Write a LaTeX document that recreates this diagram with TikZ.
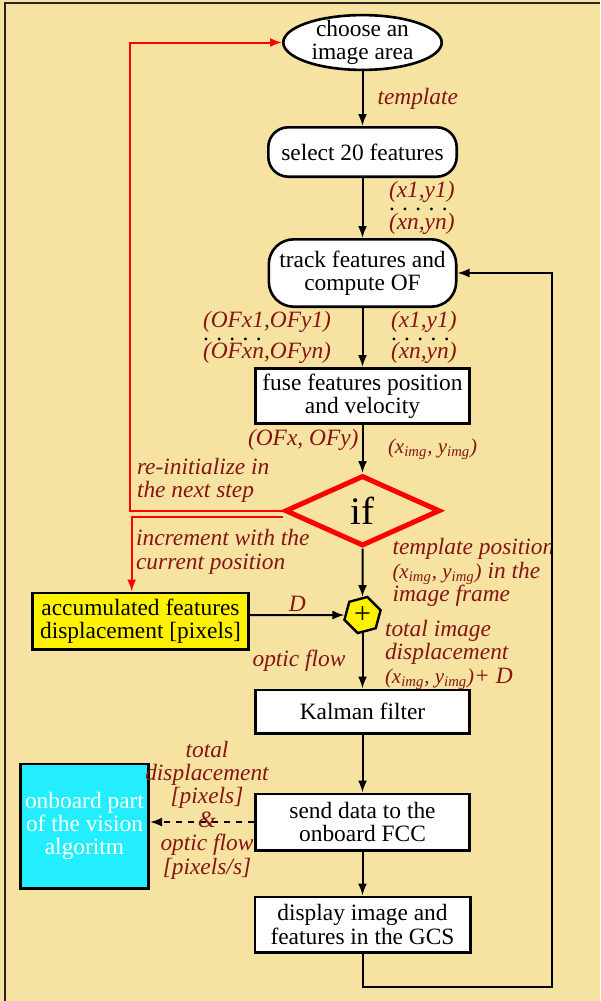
\documentclass[tikz,border=0pt]{standalone}
\usepackage{fontspec}
\setmainfont{Liberation Serif}
\usetikzlibrary{positioning,shapes.geometric,arrows.meta}
\definecolor{paper}{RGB}{246,226,161}
\definecolor{labelred}{RGB}{135,20,20}
\definecolor{onboardcyan}{RGB}{34,238,255}
\newcommand{\dotrow}{\textcolor{black}{\upshape.\hspace{3.7pt}.\hspace{3.7pt}.\hspace{3.7pt}.\hspace{3.7pt}.}}
\newcommand{\imgpos}{{\fontsize{10.5}{11}\selectfont(x\textsubscript{img}, y\textsubscript{img})}}

\begin{document}
\begin{tikzpicture}[font=\fontsize{11.7}{11.6}\selectfont,
    boxnode/.style={rectangle, draw=black, line width=1.3pt, fill=white, align=center, inner sep=1pt},
    roundnode/.style={boxnode, rounded corners=10pt},
    labelnode/.style={font=\fontsize{11.7}{11.7}\selectfont\itshape, text=labelred, align=left, inner sep=0pt},
    flowarrow/.style={line width=1pt, -{Latex[length=6pt,width=4.5pt]}},
    redarrow/.style={draw=red, line width=1pt, -{Latex[length=6pt,width=4.5pt]}}]
    \useasboundingbox (0,0) rectangle (300pt,-500.5pt);
    \fill[paper] (0,0) rectangle (300pt,-500.5pt);
    \draw[black!85, line width=1.3pt] (2.5pt,-500.5pt) -- (2.5pt,-1.5pt) -- (300pt,-1.5pt);

    \node[ellipse, draw=black, line width=1.3pt, fill=white, align=center, inner xsep=0pt, inner ysep=-2.5pt, minimum width=79.2pt, minimum height=27.4pt] (area) at (181.25pt,-21.25pt) {choose an\\image area};
    \node[roundnode, minimum width=94.2pt, minimum height=24.7pt, below=27.4pt of area] (select) {select 20 features};
    \node[roundnode, rounded corners=12.5pt, minimum width=93.7pt, minimum height=33.7pt, below=30pt of select] (track) {track features and\\compute OF};
    \node[boxnode, minimum width=107.2pt, minimum height=27.7pt, below=29.5pt of track] (fuse) {fuse features position\\and velocity};
    \node[diamond, draw=red, line width=2.5pt, inner sep=0pt, minimum width=77.5pt, minimum height=35.25pt, font=\fontsize{19.5}{19.5}\selectfont, below=24pt of fuse] (cond) {if};
    \node[regular polygon, regular polygon sides=6, shape border rotate=15, draw=black, line width=1.2pt, fill=yellow, inner sep=0pt, minimum size=18.7pt, font=\fontsize{15}{15}\selectfont, below=24.25pt of cond] (sum) {+};
    \node[boxnode, minimum width=107.2pt, minimum height=21.7pt, below=27.75pt of sum] (kalman) {Kalman filter};
    \node[boxnode, minimum width=107.2pt, minimum height=28.2pt, below=29pt of kalman] (send) {send data to the\\onboard FCC};
    \node[boxnode, minimum width=107.7pt, minimum height=27.7pt, below=22pt of send] (display) {display image and\\features in the GCS};
    \node[boxnode, fill=yellow, minimum width=108.2pt, minimum height=28.2pt, left=47.25pt of sum, yshift=-3pt] (accum) {accumulated features\\displacement [pixels]};
    \node[boxnode, fill=onboardcyan, text=white, minimum width=64.2pt, minimum height=62.2pt, left=52pt of send, yshift=-2pt] (onboard) {onboard part\\of the vision\\algoritm};
    \coordinate (reinit) at (65pt,-21.25pt);
    \coordinate (loopcorner) at (276pt,-493.5pt);

    \draw[flowarrow] (area) -- node[labelnode, midway, right=7pt] (tmpllbl) {template} (select);
    \draw[flowarrow] (select) -- node[labelnode, midway, right=12.75pt] (sellbl) {(x1,y1)\\[-5.4pt]\dotrow\\[-2.4pt](xn,yn)} (track);
    \draw[flowarrow] (track) -- node[labelnode, midway, left=15.25pt] (ofxylbl) {(OFx1,OFy1)\\[-5.4pt]\dotrow\\[-2.4pt](OFxn,OFyn)} node[labelnode, midway, right=13.75pt] (poslbl) {(x1,y1)\\[-5.4pt]\dotrow\\[-2.4pt](xn,yn)} (fuse);
    \draw[flowarrow] (fuse) -- node[labelnode, midway, left=1.5pt, yshift=4.5pt] (oflbl) {(OFx, OFy)} node[labelnode, midway, right=12.25pt] (imglbl) {\imgpos} (cond);
    \draw[flowarrow] (cond) -- node[labelnode, midway, right=14.5pt] (tplbl) {template position\\\imgpos{} in the\\image frame} (sum);
    \draw[flowarrow] (accum.east |- sum) -- node[labelnode, midway, above=1.2pt] (dlbl) {D} (sum);
    \draw[flowarrow] (sum) -- node[labelnode, midway, left=8pt] (flowlbl) {optic flow} node[labelnode, midway, right=10.75pt, yshift=3pt] (totlbl) {total image\\displacement\\\imgpos+ D} (kalman);
    \draw[flowarrow] (kalman) -- (send);
    \draw[flowarrow] (send) -- (display);
    \draw[flowarrow, dashed] (send.west) -- node[labelnode, midway, align=center, xshift=2.5pt, yshift=6pt] (outlbl) {total\\displacement\\{}[pixels]\\\&\\optic flow\\{}[pixels/s]} (send.west -| onboard.east);
    \draw[flowarrow] (display.south) |- (loopcorner) |- (track.east);

    \draw[redarrow] (cond.west) -| node[labelnode, pos=0.5, anchor=south west, xshift=3pt, yshift=3.5pt] (reinitlbl) {re-initialize in\\the next step} (reinit) -- (area.west);
    \draw[redarrow] ([yshift=-3pt]cond.west) -| node[labelnode, pos=0.5, anchor=north west, xshift=1.7pt, yshift=-6pt] (incrlbl) {increment with the\\current position} ([xshift=-4.4pt]accum.north);
\end{tikzpicture}
\end{document}
